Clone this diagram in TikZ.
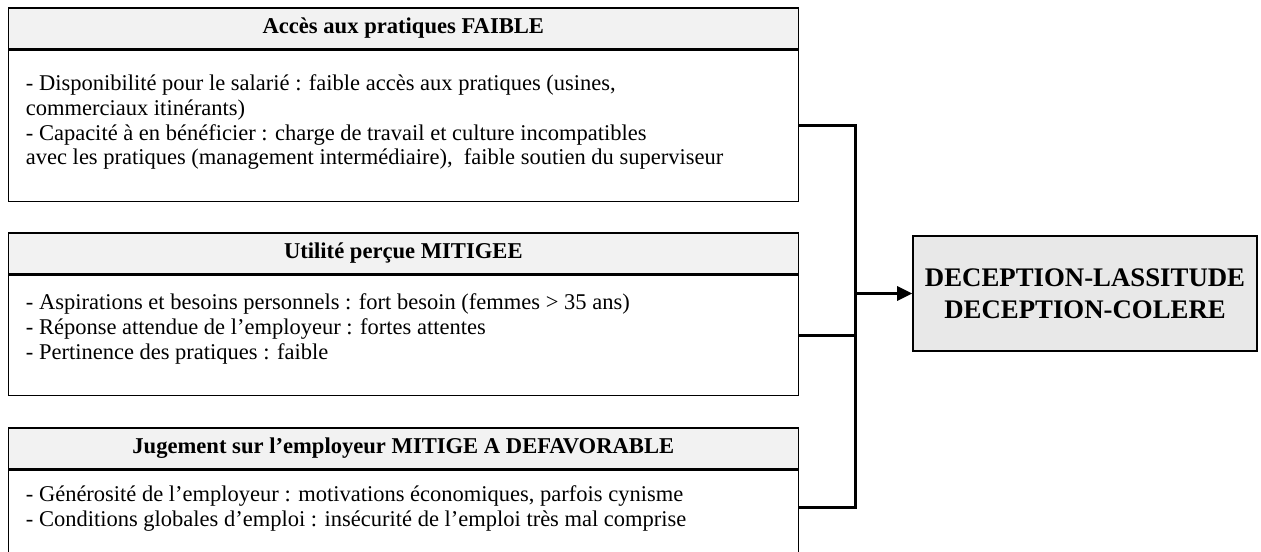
\documentclass[tikz,border=0pt]{standalone}
\usepackage{fontspec}
\setmainfont{Liberation Serif}
\usetikzlibrary{arrows.meta,positioning}
\definecolor{hdrgray}{HTML}{F2F2F2}
\definecolor{resgray}{HTML}{E8E8E8}
\tikzset{
  hdr/.style={draw, line width=0.8pt, fill=hdrgray, minimum width=395pt,
    minimum height=20.5pt, inner sep=0pt, font=\fontsize{11.3}{13}\selectfont\bfseries},
  body/.style={draw, line width=0.8pt, minimum width=395pt, inner sep=0pt},
  txt/.style={anchor=north west, inner sep=0pt, align=left,
    font=\fontsize{11.25}{12.3}\selectfont},
  conn/.style={line width=1.5pt},
  res/.style={draw, line width=0.8pt, fill=resgray, minimum width=172pt,
    minimum height=57.5pt, align=center, font=\fontsize{13.4}{15.8}\selectfont\bfseries}
}
\begin{document}
\begin{tikzpicture}[x=0.5pt,y=-0.5pt]
  \useasboundingbox (0,0) rectangle (1261,551);
  \clip (0,0) rectangle (1261,551);
  % access to practices
  \node[hdr, anchor=north west] (h1) at (7.5,7) {Accès aux pratiques FAIBLE};
  \node[body, minimum height=75.5pt, anchor=north] (b1) at (h1.south) {};
  \node[txt] (t1) at ([xshift=9pt,yshift=-12.5pt]b1.north west)
    {- Disponibilité pour le salarié : faible accès aux pratiques (usines,\\
     commerciaux itinérants)\\
     - Capacité à en bénéficier : charge de travail et culture incompatibles\\
     avec les pratiques (management intermédiaire),\ \ faible soutien du superviseur};
  % perceived usefulness
  \node[hdr, anchor=north west] (h2) at (7.5,232) {Utilité perçue MITIGEE};
  \node[body, minimum height=60pt, anchor=north] (b2) at (h2.south) {};
  \node[txt] (t2) at ([xshift=9pt,yshift=-9.5pt]b2.north west)
    {- Aspirations et besoins personnels : fort besoin (femmes > 35 ans)\\
     - Réponse attendue de l’employeur : fortes attentes\\
     - Pertinence des pratiques : faible};
  % judgement on the employer
  \node[hdr, anchor=north west] (h3) at (7.5,427) {Jugement sur l’employeur MITIGE A DEFAVORABLE};
  \node[body, minimum height=50pt, anchor=north] (b3) at (h3.south) {};
  \node[txt] (t3) at ([xshift=9pt,yshift=-8pt]b3.north west)
    {- Générosité de l’employeur : motivations économiques, parfois cynisme\\
     - Conditions globales d’emploi : insécurité de l’emploi très mal comprise};
  % outcome
  \node[res] (res) at (1085,293.5) {DECEPTION-LASSITUDE\\DECEPTION-COLERE};
  % connectors
  \coordinate (sp) at (855,0);
  \coordinate (l3) at ([yshift=-19pt]b3.north east);
  \draw[conn] (b1.east) -| (sp |- l3) -- (l3);
  \draw[conn] (b2.east) -- (b2.east -| sp);
  \draw[conn, -{Triangle[length=7.5pt,width=7pt]}] (sp |- res.west) -- (res.west);
\end{tikzpicture}
\end{document}
